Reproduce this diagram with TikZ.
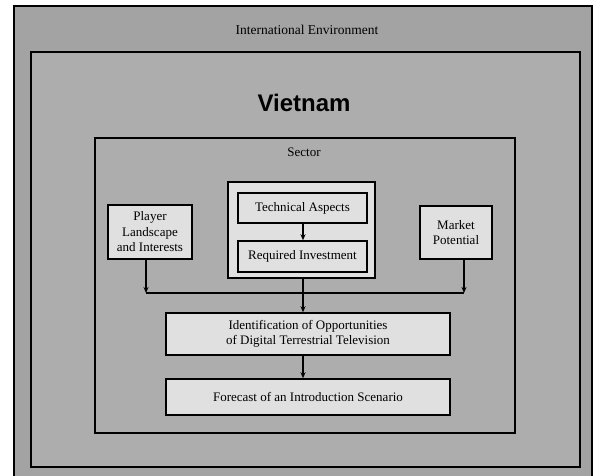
\documentclass[tikz,border=0pt]{standalone}
\usepackage{fontspec}
\setmainfont{Liberation Serif}
\newfontfamily\headfont{Liberation Sans}
\usetikzlibrary{arrows.meta}
\definecolor{bandgray}{gray}{0.64}
\definecolor{fieldgray}{gray}{0.68}
\definecolor{boxgray}{gray}{0.88}
\tikzset{
  frame/.style={draw=black, line width=1.3pt},
  stagebox/.style={draw=black, line width=1.5pt, fill=boxgray, align=center,
    inner sep=2pt, font=\fontsize{13}{15.5}\selectfont},
  flow/.style={draw=black, line width=1.1pt, -{Stealth[length=6pt,width=5pt]}},
  plain/.style={draw=black, line width=1.1pt},
  label/.style={font=\fontsize{13}{15}\selectfont}
}
\begin{document}
\begin{tikzpicture}[x=1pt, y=-1pt]
  \useasboundingbox (0,0) rectangle (598,476);
  \fill[white] (0,0) rectangle (598,476);

  % nested context frames
  \draw[frame, fill=bandgray] (14,6) rectangle (592,478);
  \draw[frame, fill=fieldgray] (31,52) rectangle (580,467);
  \draw[frame, line width=1.1pt, fill=fieldgray] (95,138) rectangle (515,433);

  \node[label, font=\fontsize{13.5}{15}\selectfont] (intl) at (307,30) {International Environment};
  \node[font=\headfont\bfseries\fontsize{24}{26}\selectfont] (country) at (304,103) {Vietnam};
  \node[label] (sector) at (304,152) {Sector};

  % input boxes
  \node[stagebox, minimum width=84pt, minimum height=54pt] (player) at (150,232)
    {Player\\Landscape\\and Interests};
  \node[stagebox, minimum width=72pt, minimum height=53pt] (market) at (456,232.5)
    {Market\\Potential};

  % technical group
  \node[draw=black, line width=2pt, fill=boxgray, minimum width=147pt, minimum height=96pt] (group) at (301.5,230) {};
  \node[stagebox, minimum width=129pt, minimum height=30pt] (tech) at (302.5,208) {Technical Aspects};
  \node[stagebox, minimum width=129pt, minimum height=31pt] (invest) at (302.5,256.5) {Required Investment};

  % results
  \node[stagebox, minimum width=284pt, minimum height=42pt] (ident) at (308,334)
    {Identification of Opportunities\\of Digital Terrestrial Television};
  \node[stagebox, minimum width=284pt, minimum height=36pt] (forecast) at (308,397)
    {Forecast of an Introduction Scenario};

  % connectors
  \coordinate (join) at (303,293);
  \coordinate (pdrop) at (146,293);
  \coordinate (mdrop) at (464,293);
  \draw[flow] (tech.south -| join) -- (invest.north -| join);
  \draw[flow] (player.south -| pdrop) -- (pdrop);
  \draw[flow] (market.south -| mdrop) -- (mdrop);
  \draw[plain] (pdrop) -- (mdrop);
  \draw[flow] (group.south -| join) -- (ident.north -| join);
  \draw[flow] (ident.south -| join) -- (forecast.north -| join);
\end{tikzpicture}
\end{document}
